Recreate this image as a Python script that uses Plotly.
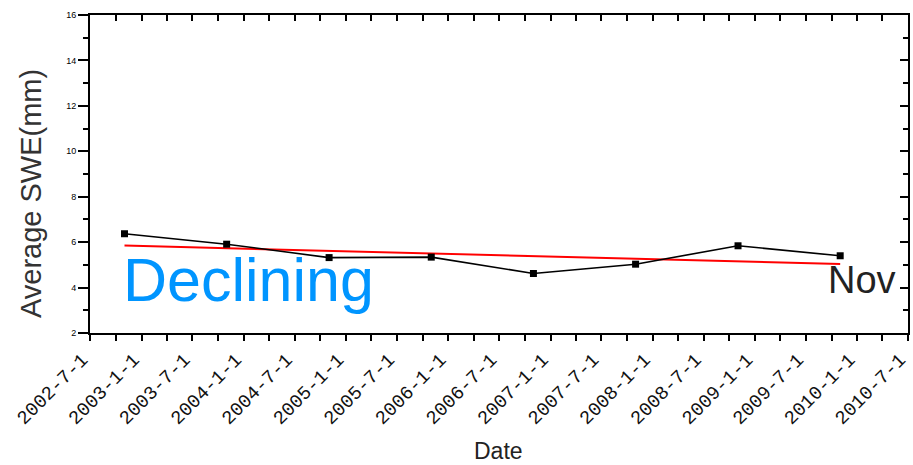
import plotly.graph_objects as go

# ---- data ----
dates = ["2002-11-01", "2003-11-01", "2004-11-01", "2005-11-01",
         "2006-11-01", "2007-11-01", "2008-11-01", "2009-11-01"]
swe = [6.37, 5.91, 5.32, 5.34, 4.62, 5.03, 5.84, 5.40]

trend_dates = ["2002-11-01", "2009-11-01"]
trend_values = [5.85, 5.04]

tick_dates = ["2002-07-01", "2003-01-01", "2003-07-01", "2004-01-01", "2004-07-01",
              "2005-01-01", "2005-07-01", "2006-01-01", "2006-07-01", "2007-01-01",
              "2007-07-01", "2008-01-01", "2008-07-01", "2009-01-01", "2009-07-01",
              "2010-01-01", "2010-07-01"]
tick_labels = ["2002-7-1", "2003-1-1", "2003-7-1", "2004-1-1", "2004-7-1",
               "2005-1-1", "2005-7-1", "2006-1-1", "2006-7-1", "2007-1-1",
               "2007-7-1", "2008-1-1", "2008-7-1", "2009-1-1", "2009-7-1",
               "2010-1-1", "2010-7-1"]
y_ticks = [2, 4, 6, 8, 10, 12, 14, 16]

x_range = ["2002-06-30 18:00", "2010-07-01 06:00"]
y_range = [2, 16]

fig = go.Figure()
fig.add_trace(go.Scatter(
    x=trend_dates, y=trend_values, mode="lines",
    line=dict(color="#ff0000", width=2), showlegend=False, hoverinfo="skip"))
fig.add_trace(go.Scatter(
    x=dates, y=swe, mode="lines+markers",
    line=dict(color="#000000", width=1.6),
    marker=dict(symbol="square", size=7, color="#000000"),
    showlegend=False))
# invisible copy so the mirrored top/right frame axes get drawn
fig.add_trace(go.Scatter(
    x=dates, y=swe, xaxis="x2", yaxis="y2", mode="markers",
    marker=dict(opacity=0), showlegend=False, hoverinfo="skip"))

axis_font = "Liberation Sans, Arial, sans-serif"

fig.update_layout(
    width=913, height=465,
    margin=dict(l=90, r=5, t=15, b=132),
    paper_bgcolor="white", plot_bgcolor="white",
    font=dict(family=axis_font, color="#000"),
    xaxis=dict(
        type="date", range=x_range, automargin=False,
        tickmode="array", tickvals=tick_dates, ticktext=tick_labels,
        tickangle=-45, tickfont=dict(size=19, family="Liberation Mono, DejaVu Sans Mono, monospace", color="#111"),
        ticklabelstandoff=0, ticklabelshift=-8, ticklabeloverflow="allow",
        ticks="outside", ticklen=6, tickwidth=1.5, tickcolor="#000",
        minor=dict(dtick="M3", tick0="2002-07-01", ticks="outside", ticklen=6,
                   tickwidth=1.5, tickcolor="#000"),
        showline=True, linecolor="#000", linewidth=2,
        showgrid=False, zeroline=False,
    ),
    yaxis=dict(
        range=y_range, tickmode="array", tickvals=y_ticks, automargin=False,
        tickfont=dict(size=9, color="#000"),
        ticks="outside", ticklen=10, tickwidth=1.5, tickcolor="#000",
        minor=dict(dtick=1, tick0=2, ticks="outside", ticklen=5,
                   tickwidth=1.5, tickcolor="#000"),
        showline=True, linecolor="#000", linewidth=2,
        showgrid=False, zeroline=False,
    ),
    xaxis2=dict(
        type="date", range=x_range, overlaying="x", side="top", anchor="y",
        tickmode="array", tickvals=tick_dates, showticklabels=False, automargin=False,
        ticks="inside", ticklen=6, tickwidth=1.5, tickcolor="#000",
        minor=dict(dtick="M3", tick0="2002-07-01", ticks="inside", ticklen=6,
                   tickwidth=1.5, tickcolor="#000"),
        showline=True, linecolor="#000", linewidth=2,
        showgrid=False, zeroline=False,
    ),
    yaxis2=dict(
        range=y_range, overlaying="y", side="right", anchor="x",
        tickmode="array", tickvals=y_ticks, showticklabels=False, automargin=False,
        ticks="inside", ticklen=8, tickwidth=1.5, tickcolor="#000",
        minor=dict(dtick=1, tick0=2, ticks="inside", ticklen=5,
                   tickwidth=1.5, tickcolor="#000"),
        showline=True, linecolor="#000", linewidth=2,
        showgrid=False, zeroline=False,
    ),
    annotations=[
        dict(text="Declining", xref="paper", yref="paper", x=0.0379, y=0.1667,
             xanchor="left", yanchor="middle", showarrow=False,
             font=dict(size=61, color="#0095ff", family=axis_font)),
        dict(text="Nov", xref="paper", yref="paper", x=0.8998, y=0.1667,
             xanchor="left", yanchor="middle", showarrow=False,
             font=dict(size=38, color="#222", family=axis_font)),
        dict(text="Average SWE(mm)", xref="paper", yref="paper", x=-0.0721, y=0.437,
             xanchor="center", yanchor="middle", textangle=-90, showarrow=False,
             font=dict(size=29, color="#333", family=axis_font)),
        dict(text="Date", xref="paper", yref="paper", x=0.499, y=-0.371,
             xanchor="center", yanchor="middle", showarrow=False,
             font=dict(size=23, color="#222", family=axis_font)),
    ],
)

fig.write_html("out.html")
